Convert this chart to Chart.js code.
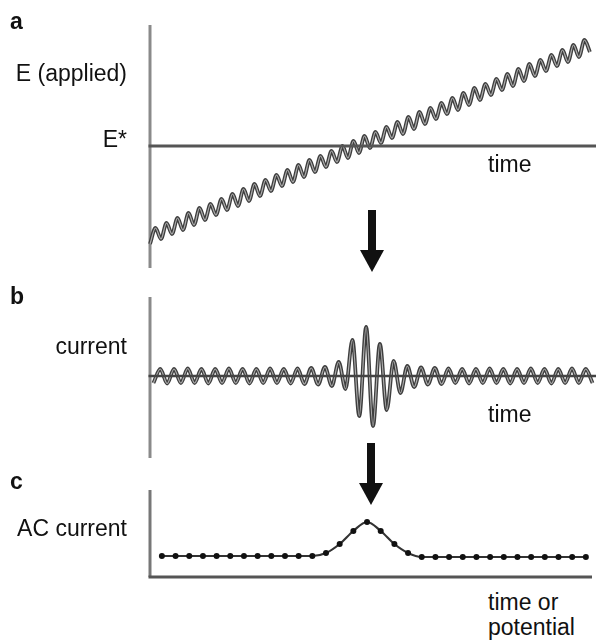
<!DOCTYPE html>
<html>
<head>
<meta charset="utf-8">
<script src="https://cdn.jsdelivr.net/npm/chart.js@4"></script>
<style>
body{margin:0;background:#fff;width:596px;height:642px;position:relative;overflow:hidden;font-family:"Liberation Sans",Arial,sans-serif;}
canvas{position:absolute;left:0}
.lbl{position:absolute;font-size:23px;line-height:23px;color:#111;white-space:nowrap}
.r{text-align:right;right:469px}
.panel{font-weight:bold;left:10px}
.arrow{position:absolute;width:24px;height:62px}
.arrow .shaft{position:absolute;left:8px;top:0;width:8px;height:42px;background:#111}
.arrow .head{position:absolute;left:0;top:40px;width:0;height:0;border-left:12px solid transparent;border-right:12px solid transparent;border-top:22px solid #111}
</style>
</head>
<body>
<canvas id="chartA" width="596" height="265" style="top:15px"></canvas>
<canvas id="chartB" width="596" height="181" style="top:287px"></canvas>
<canvas id="chartC" width="596" height="107" style="top:480px"></canvas>

<div class="lbl panel" style="top:10px">a</div>
<div class="lbl r" style="top:62px">E (applied)</div>
<div class="lbl r" style="top:128px">E*</div>
<div class="lbl" style="left:488px;top:153px">time</div>

<div class="lbl panel" style="top:285px">b</div>
<div class="lbl r" style="top:335px">current</div>
<div class="lbl" style="left:488px;top:403px">time</div>

<div class="lbl panel" style="top:470px">c</div>
<div class="lbl r" style="top:517px">AC current</div>
<div class="lbl" style="left:488px;top:591px">time or</div>
<div class="lbl" style="left:488px;top:616px">potential</div>

<div class="arrow" style="left:360px;top:210px"><div class="shaft"></div><div class="head"></div></div>
<div class="arrow" style="left:359px;top:443px"><div class="shaft"></div><div class="head"></div></div>

<script>
// applied potential: ramp with superimposed sine, one value per half-cycle extremum
const eApplied = [
  -9.8, -8.2, -9.3, -7.7, -8.8, -7.2, -8.4, -6.7, -7.9, -6.2,
  -7.4, -5.8, -6.9, -5.3, -6.4, -4.8, -6.0, -4.3, -5.5, -3.8,
  -5.0, -3.4, -4.5, -2.9, -4.0, -2.4, -3.6, -1.9, -3.1, -1.4,
  -2.6, -1.0, -2.1, -0.5, -1.6, 0.0, -1.2, 0.5, -0.7, 1.0,
  -0.2, 1.4, 0.3, 1.9, 0.8, 2.4, 1.2, 2.9, 1.7, 3.4,
  2.2, 3.8, 2.7, 4.3, 3.2, 4.8, 3.6, 5.3, 4.1, 5.8,
  4.6, 6.2, 5.1, 6.7, 5.6, 7.2, 6.0, 7.7, 6.5, 8.2,
  7.0, 8.6, 7.5, 9.1, 8.0, 9.6, 8.4, 10.1, 8.9, 10.6,
  9.4
];

// current response: small background oscillation, burst near E*
const currentB = [
  -0.7, 0.7, -0.75, 0.7, -0.7, 0.75, -0.7, 0.7, -0.75, 0.7,
  -0.7, 0.75, -0.7, 0.7, -0.75, 0.7, -0.7, 0.75, -0.7, 0.7,
  -0.75, 0.75, -0.8, 0.8, -0.85, 0.9, -1.0, 1.4, -1.3, 3.6,
  -4.0, 4.9, -5.0, 3.2, -3.4, 1.5, -1.7, 1.0, -1.1, 0.85,
  -0.85, 0.8, -0.8, 0.75, -0.7, 0.7, -0.75, 0.7, -0.7, 0.75,
  -0.7, 0.7, -0.75, 0.7, -0.7, 0.75, -0.7, 0.7, -0.75, 0.7,
  -0.7, 0.75, -0.7, 0.7, -0.7
];

// AC current amplitude
const acCurrent = [
  2.1, 2.1, 2.1, 2.1, 2.1, 2.1, 2.1, 2.1, 2.1, 2.1, 2.1, 2.1,
  2.4, 3.3, 4.6, 5.5, 4.6, 3.3, 2.4,
  2.0, 2.0, 2.0, 2.0, 2.0, 2.0, 2.0, 2.0, 2.0, 2.0, 2.0, 2.0, 2.0
];

const toXY = arr => arr.map((v, i) => ({x: i, y: v}));

// left axis plus a horizontal line at a given y value
const axisLines = {
  id: 'axisLines',
  beforeDatasetsDraw(chart, args, opts) {
    const {ctx, chartArea} = chart;
    ctx.save();
    ctx.strokeStyle = opts.vColor;
    ctx.lineWidth = 3;
    ctx.beginPath();
    ctx.moveTo(chartArea.left, chartArea.top);
    ctx.lineTo(chartArea.left, chartArea.bottom);
    ctx.stroke();
    ctx.restore();
  },
  afterDatasetsDraw(chart, args, opts) {
    const {ctx, chartArea, scales} = chart;
    const y = scales.y.getPixelForValue(opts.at);
    ctx.save();
    ctx.strokeStyle = opts.hColor;
    ctx.lineWidth = opts.hWidth;
    ctx.beginPath();
    ctx.moveTo(chartArea.left - 1.5, y);
    ctx.lineTo(chartArea.right, y);
    ctx.stroke();
    ctx.restore();
  }
};

function options(xMin, xMax, yMin, yMax, pad, axis) {
  return {
    responsive: false,
    animation: false,
    events: [],
    layout: {padding: pad},
    plugins: {legend: {display: false}, tooltip: {enabled: false}, axisLines: axis},
    scales: {
      x: {type: 'linear', display: false, min: xMin, max: xMax},
      y: {type: 'linear', display: false, min: yMin, max: yMax}
    }
  };
}

function wave(data) {
  return [
    {data: data, borderColor: '#adadad', borderWidth: 1.2, pointRadius: 0, cubicInterpolationMode: 'monotone', clip: false},
    {data: data, borderColor: '#3e3e3e', borderWidth: 3.8, pointRadius: 0, cubicInterpolationMode: 'monotone', clip: false}
  ];
}

new Chart(document.getElementById('chartA'), {
  type: 'line',
  data: {datasets: wave(toXY(eApplied))},
  options: options(0, 81.1, -12.2, 12.1, {left: 150, right: 0, top: 10, bottom: 12},
    {at: 0, vColor: '#8a8a8a', hColor: '#555', hWidth: 3}),
  plugins: [axisLines]
});

new Chart(document.getElementById('chartB'), {
  type: 'line',
  data: {datasets: wave(toXY(currentB))},
  options: options(-0.5, 64.5, -8.2, 7.9, {left: 150, right: 0, top: 10, bottom: 10},
    {at: 0, vColor: '#8a8a8a', hColor: '#444', hWidth: 2.5}),
  plugins: [axisLines]
});

new Chart(document.getElementById('chartC'), {
  type: 'line',
  data: {datasets: [{
    data: toXY(acCurrent),
    borderColor: '#333',
    borderWidth: 2.2,
    pointRadius: 3,
    pointBackgroundColor: '#111',
    pointBorderWidth: 0,
    cubicInterpolationMode: 'monotone',
    clip: false
  }]},
  options: options(-0.87, 31.45, 0, 8.7, {left: 150, right: 0, top: 10, bottom: 10},
    {at: 0, vColor: '#777', hColor: '#555', hWidth: 3}),
  plugins: [axisLines]
});
</script>
</body>
</html>
